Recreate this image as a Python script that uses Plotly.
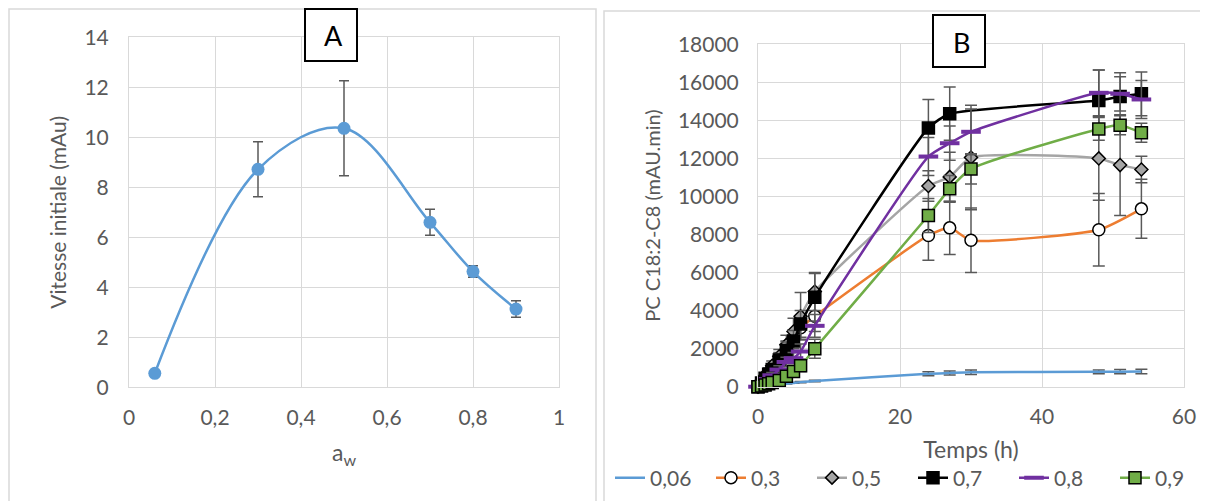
"""
Activité initiale (A) et cinétique PC C18:2-C8 (B) en fonction de a_w
"""

import plotly.graph_objects as go

# page body keeps its default 8 px margin, so the figure is drawn 8 px in
OFF = 8
W, H = 1208 - OFF, 501 - OFF
FONT = "Lato"
GRID = "#d9d9d9"
TXT = "#595959"

# ==== Panel A : vitesse initiale ====
AW = [0.06, 0.3, 0.5, 0.7, 0.8, 0.9]
VITESSE = [0.56, 8.72, 10.36, 6.6, 4.63, 3.13]
VITESSE_ERR = [0, 1.1, 1.9, 0.52, 0.23, 0.33]

# ==== Panel B : PC C18:2-C8 vs temps ====
TEMPS = [0, 0.5, 1, 1.5, 2, 3, 4, 5, 6, 8, 24, 27, 30, 48, 51, 54]
TEMPS_03 = [0, 0.5, 1, 1.5, 2, 3, 4, 5, 6, 8, 24, 27, 30, 48, 54]
TEMPS_07 = [0, 0.5, 1, 1.5, 2, 3, 4, 5, 6, 8, 24, 27, 48, 51, 54]

PC_006 = [0, 20, 40, 60, 80, 120, 160, 200, 240, 300, 680, 720, 760, 780, 790, 800]
PC_006_ERR = [0, 10, 10, 15, 15, 20, 20, 25, 30, 40, 110, 110, 120, 100, 110, 120]

PC_03 = [0, 250, 500, 750, 1000, 1500, 2000, 2500, 3100, 3700, 7950, 8350, 7700, 8250, 9350]
PC_03_ERR = [0, 80, 120, 150, 200, 300, 400, 500, 600, 800, 1300, 1400, 1700, 1900, 1550]

PC_05 = [0, 250, 550, 800, 1100, 1600, 2200, 2900, 3700, 5000, 10550, 11030, 12050, 12000, 11650, 11420]
PC_05_ERR = [0, 100, 150, 200, 250, 350, 500, 700, 1250, 1000, 800, 1300, 2750, 2200, 2650, 700]

PC_07 = [0, 200, 450, 650, 900, 1400, 1900, 2400, 3300, 4700, 13600, 14350, 15050, 15250, 15400]
PC_07_ERR = [0, 100, 150, 200, 250, 350, 450, 550, 700, 1250, 1500, 1400, 1600, 1250, 1150]

PC_08 = [0, 100, 250, 400, 600, 900, 1300, 1500, 1850, 3200, 12100, 12800, 13400, 15450, 15400, 15100]
PC_08_ERR = [0, 50, 80, 100, 150, 200, 250, 300, 400, 600, 1000, 900, 1200, 1200, 900, 1000]

PC_09 = [0, 40, 90, 150, 220, 330, 550, 800, 1100, 2000, 9000, 10400, 11450, 13550, 13750, 13350]
PC_09_ERR = [0, 30, 50, 80, 100, 150, 200, 250, 300, 500, 900, 700, 800, 600, 500, 500]

SERIES = [
    ("0,06", TEMPS, PC_006, PC_006_ERR),
    ("0,3", TEMPS_03, PC_03, PC_03_ERR),
    ("0,5", TEMPS, PC_05, PC_05_ERR),
    ("0,7", TEMPS_07, PC_07, PC_07_ERR),
    ("0,8", TEMPS, PC_08, PC_08_ERR),
    ("0,9", TEMPS, PC_09, PC_09_ERR),
]

STYLES = {
    "0,06": dict(color="#5B9BD5", mode="lines", marker=None),
    "0,3": dict(color="#ED7D31", mode="lines+markers",
                marker=dict(symbol="circle", size=12, color="white", line=dict(color="black", width=1.5))),
    "0,5": dict(color="#A5A5A5", mode="lines+markers",
                marker=dict(symbol="diamond", size=10, color="#A5A5A5", line=dict(color="black", width=1.5))),
    "0,7": dict(color="#000000", mode="lines+markers",
                marker=dict(symbol="square", size=12, color="black", line=dict(color="black", width=1.5))),
    "0,8": dict(color="#7030A0", mode="lines+markers",
                marker=dict(symbol="line-ew", size=14, color="#7030A0", line=dict(color="#7030A0", width=4))),
    "0,9": dict(color="#70AD47", mode="lines+markers",
                marker=dict(symbol="square", size=12, color="#70AD47", line=dict(color="black", width=1.5))),
}


def px_x(v):
    """page pixel -> paper x"""
    return (v - OFF) / W


def px_y(v):
    """page pixel -> paper y"""
    return 1 - (v - OFF) / H


def err(arr, width):
    return dict(type="data", array=arr, visible=True, color=TXT, thickness=1.5, width=width)


def build_figure():
    fig = go.Figure()

    # --- panel A ---
    fig.add_trace(go.Scatter(
        x=AW, y=VITESSE, mode="lines+markers", showlegend=False,
        line=dict(color="#5B9BD5", width=2.5, shape="spline", smoothing=1),
        marker=dict(size=13, color="#5B9BD5"),
        error_y=err(VITESSE_ERR, 5), cliponaxis=False,
        xaxis="x", yaxis="y",
    ))

    # --- panel B ---
    for name, t, y, e in SERIES:
        st = STYLES[name]
        kw = dict(marker=st["marker"]) if st["marker"] else {}
        fig.add_trace(go.Scatter(
            x=t, y=y, name=name, mode=st["mode"],
            line=dict(color=st["color"], width=2.5, shape="spline", smoothing=0.55),
            error_y=err(e, 6), cliponaxis=False,
            xaxis="x2", yaxis="y2", **kw,
        ))

    axis_common = dict(
        showgrid=True, gridcolor=GRID, gridwidth=1,
        showline=True, linecolor=GRID, linewidth=1, mirror=True,
        zeroline=False, ticks="", automargin=False,
        tickfont=dict(family=FONT, size=21, color=TXT),
    )

    fig.update_layout(
        width=W, height=H,
        margin=dict(l=0, r=0, t=0, b=0, autoexpand=False),
        paper_bgcolor="white", plot_bgcolor="white",
        separators=", ",
        font=dict(family=FONT, color=TXT),
        xaxis=dict(
            domain=[px_x(129), px_x(559)], range=[0, 1], dtick=0.2,
            anchor="y", ticklabelstandoff=11,
            title=dict(text="a<sub>w</sub>", font=dict(size=23, color=TXT), standoff=17),
            **axis_common,
        ),
        yaxis=dict(
            domain=[px_y(387.3), px_y(37.3)], range=[0, 14], dtick=2,
            anchor="x", ticklabelstandoff=15,
            title=dict(text="Vitesse initiale (mAu)", font=dict(size=21, color=TXT), standoff=12),
            **axis_common,
        ),
        xaxis2=dict(
            domain=[px_x(758), px_x(1184)], range=[0, 60], dtick=20,
            anchor="y2", ticklabelstandoff=11,
            title=dict(text="Temps (h)", font=dict(size=23, color=TXT), standoff=14),
            **axis_common,
        ),
        yaxis2=dict(
            domain=[px_y(386.7), px_y(44.3)], range=[0, 18000], dtick=2000,
            tickformat="d", anchor="x2", ticklabelstandoff=14,
            title=dict(text="PC C18:2-C8 (mAU.min)", font=dict(size=20, color=TXT), standoff=11),
            **axis_common,
        ),
        legend=dict(
            orientation="h", x=px_x(610), xanchor="left",
            y=px_y(478), yanchor="middle",
            font=dict(family=FONT, size=21, color=TXT),
            entrywidth=56, entrywidthmode="pixels",
            itemwidth=30, bgcolor="rgba(0,0,0,0)",
        ),
    )

    # panel frames
    fig.add_shape(type="rect", xref="paper", yref="paper",
                  x0=px_x(9), x1=px_x(596), y0=px_y(520), y1=px_y(9),
                  line=dict(color=GRID, width=1.5), layer="below")
    fig.add_shape(type="rect", xref="paper", yref="paper",
                  x0=px_x(604), x1=px_x(1230), y0=px_y(520), y1=px_y(11),
                  line=dict(color=GRID, width=1.5), layer="below")

    # letter boxes
    for label, (x0, x1, y0, y1) in {"A": (305, 357, 9, 61), "B": (933, 985, 15, 67)}.items():
        fig.add_shape(type="rect", xref="paper", yref="paper",
                      x0=px_x(x0), x1=px_x(x1), y0=px_y(y1), y1=px_y(y0),
                      line=dict(color="black", width=2), fillcolor="white")
        fig.add_annotation(text=label, xref="paper", yref="paper",
                           x=px_x((x0 + x1) / 2 + 2), y=px_y((y0 + y1) / 2 + 1),
                           xanchor="center", yanchor="middle",
                           showarrow=False, font=dict(family=FONT, size=27, color="black"))

    return fig


def main():
    fig = build_figure()
    fig.write_html("out.html")


if __name__ == "__main__":
    main()
